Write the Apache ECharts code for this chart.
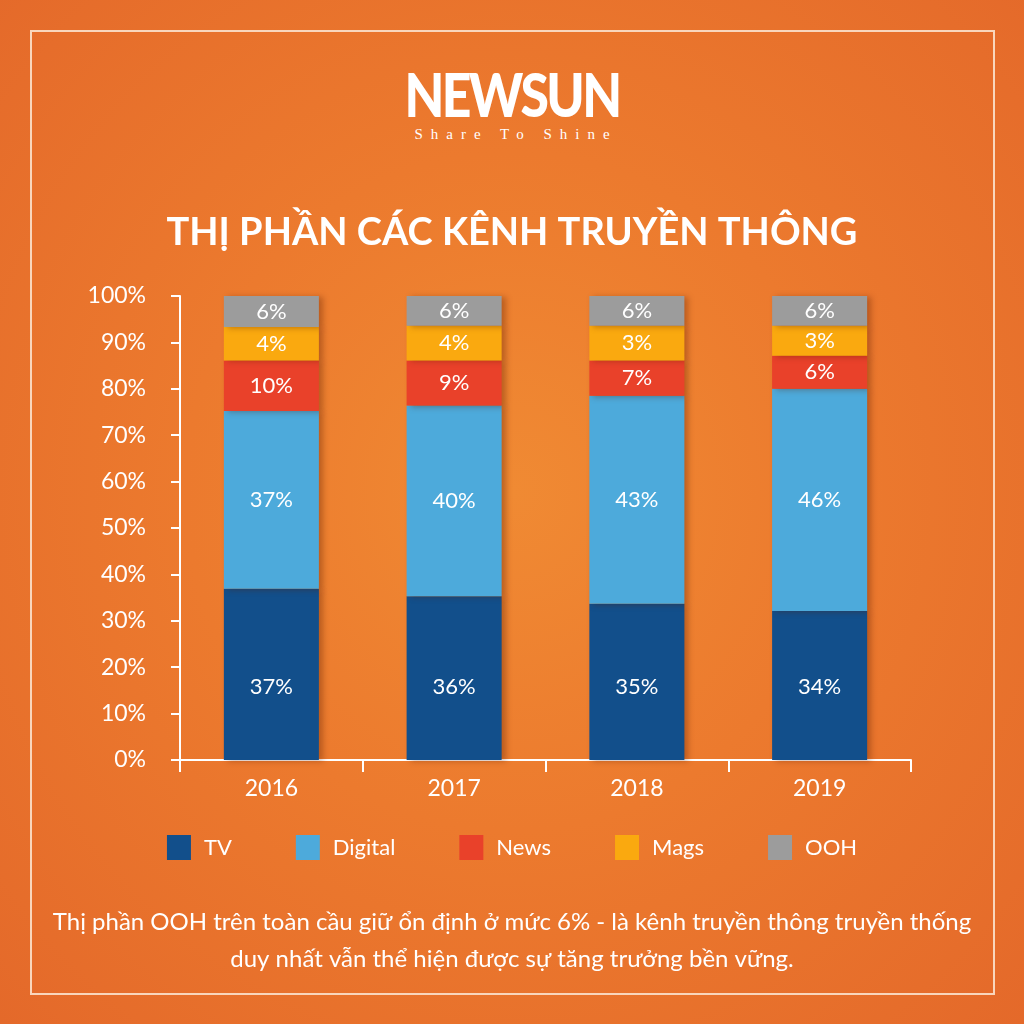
<!DOCTYPE html>
<html>
<head>
<meta charset="UTF-8">
<title>Thị phần các kênh truyền thông</title>
<script src="https://cdn.jsdelivr.net/npm/echarts@6/dist/echarts.min.js"></script>
<style>
  html, body { margin: 0; padding: 0; width: 1024px; height: 1024px; overflow: hidden; }
  body { background: radial-gradient(ellipse at 50% 48%, #F08A33 0%, #EC7A2E 45%, #E4692A 100%); position: relative; font-family: Lato, sans-serif; }
  #frame { position: absolute; left: 30px; top: 30px; width: 961px; height: 961px; border: 2px solid #F9D6BC; box-sizing: content-box; }
  #logo { position: absolute; left: 0; width: 1024px; top: 62px; text-align: center; color: #fff; }
  #logo .name { font-family: Lato, sans-serif; font-weight: 900; font-size: 60px; line-height: 64px; letter-spacing: -3px; display: inline-block; transform: scaleX(0.86); }
  #logo .tag { font-family: "Liberation Serif", serif; font-size: 15px; letter-spacing: 8px; margin-top: 0px; padding-left: 8px; }
  #main { position: absolute; left: 0; top: 0; width: 1024px; height: 1024px; }
</style>
</head>
<body>
<div id="frame"></div>
<div id="logo"><div class="name">NEWSUN</div><div class="tag">Share To Shine</div></div>
<div id="main"></div>
<script type="text/javascript">
  // data
  var years = ['2016', '2017', '2018', '2019'];
  var seriesNames = ['TV', 'Digital', 'News', 'Mags', 'OOH'];
  // segment sizes as drawn (share of the bar)
  var tv      = [36.9, 35.3, 33.7, 32.1];
  var digital = [38.3, 41.1, 44.8, 47.9];
  var news    = [10.9, 9.7, 7.6, 7.1];
  var mags    = [7.2, 7.5, 7.5, 6.5];
  var ooh     = [6.7, 6.4, 6.4, 6.4];
  // printed labels
  var tvLabels      = ['37%', '36%', '35%', '34%'];
  var digitalLabels = ['37%', '40%', '43%', '46%'];
  var newsLabels    = ['10%', '9%', '7%', '6%'];
  var magsLabels    = ['4%', '4%', '3%', '3%'];
  var oohLabels     = ['6%', '6%', '6%', '6%'];

  var colors = ['#124F8B', '#4DAADB', '#E9412A', '#FAA90F', '#9C9C9C'];
  var values = [tv, digital, news, mags, ooh];
  var labels = [tvLabels, digitalLabels, newsLabels, magsLabels, oohLabels];

  var chart = echarts.init(document.getElementById('main'), null, { renderer: 'canvas' });

  var series = seriesNames.map(function (name, i) {
    return {
      name: name,
      type: 'bar',
      stack: 'share',
      barWidth: '52%',
      data: values[i],
      itemStyle: {
        color: colors[i],
        shadowColor: 'rgba(90,30,0,0.35)',
        shadowBlur: 6,
        shadowOffsetX: 4,
        shadowOffsetY: 1
      },
      label: {
        show: true,
        // TV labels sit at a fixed height above the base
        position: i === 0 ? 'insideBottom' : 'inside',
        distance: i === 0 ? 62 : 5,
        color: '#fff',
        fontFamily: 'Lato',
        fontSize: 22,
        formatter: function (p) { return labels[i][p.dataIndex]; }
      }
    };
  });

  var option = {
    animation: false,
    textStyle: { fontFamily: 'Lato' },
    title: {
      text: 'THỊ PHẦN CÁC KÊNH TRUYỀN THÔNG',
      left: 'center',
      top: 209,
      textStyle: { color: '#fff', fontFamily: 'Lato', fontWeight: 'bold', fontSize: 38 }
    },
    legend: {
      data: seriesNames,
      left: 'center',
      top: 830,
      icon: 'rect',
      itemWidth: 24,
      itemHeight: 25,
      itemGap: 64,
      textStyle: { color: '#fff', fontFamily: 'Lato', fontSize: 22, padding: [0, 0, 0, 8] }
    },
    grid: { left: 180, right: 113, top: 296, bottom: 264, containLabel: false },
    xAxis: {
      type: 'category',
      data: years,
      axisLine: { lineStyle: { color: '#fff', width: 2 } },
      axisTick: { show: true, length: 12, lineStyle: { color: '#fff', width: 2 } },
      axisLabel: { color: '#fff', fontFamily: 'Lato', fontSize: 23, margin: 17 }
    },
    yAxis: {
      type: 'value',
      min: 0,
      max: 100,
      interval: 10,
      splitLine: { show: false },
      axisLine: { show: true, lineStyle: { color: '#fff', width: 2 } },
      axisTick: { show: true, length: 9, lineStyle: { color: '#fff', width: 2 } },
      axisLabel: { color: '#fff', fontFamily: 'Lato', fontSize: 23, margin: 34, formatter: '{value}%' }
    },
    graphic: [
      {
        type: 'text',
        left: 'center',
        top: 904,
        style: {
          text: 'Thị phần OOH trên toàn cầu giữ ổn định ở mức 6% - là kênh truyền thông truyền thống\nduy nhất vẫn thể hiện được sự tăng trưởng bền vững.',
          fill: '#fff',
          font: '24px Lato',
          textAlign: 'center',
          lineHeight: 37
        }
      }
    ],
    series: series
  };

  chart.setOption(option);
</script>
</body>
</html>
